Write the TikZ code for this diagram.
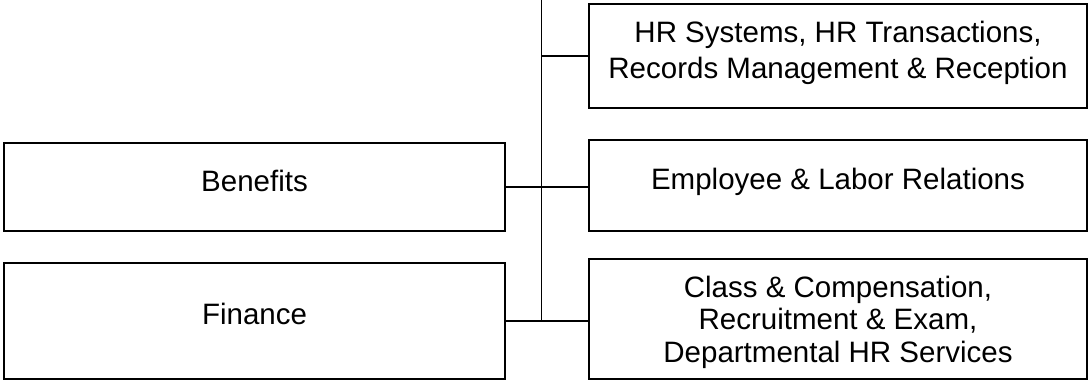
\documentclass[tikz,border=0pt]{standalone}
\usepackage{fontspec}
\setmainfont{Liberation Sans}
\begin{document}
\begin{tikzpicture}[x=1pt,y=1pt,
  box/.style={draw=black,line width=1.5pt,inner sep=0pt,minimum width=#1},
  lbl/.style={inner sep=0pt,align=center,font=\fontsize{29.5}{32.5}\selectfont},
  conn/.style={draw=black,line width=1.2pt}]
\useasboundingbox (0,0) rectangle (1088,382);
% boxes (y = 382 - pixel row)
\node[box=501pt,minimum height=88pt]  (ben) at (254.5,195) {};
\node[box=501pt,minimum height=116pt] (fin) at (254.5,61) {};
\node[box=498pt,minimum height=104pt] (hr)  at (838,326) {};
\node[box=498pt,minimum height=91pt]  (emp) at (838,196.5) {};
\node[box=498pt,minimum height=120pt] (cls) at (838,63) {};
% texts
\node[lbl,anchor=base] (tben) at (254.5,190) {Benefits};
\node[lbl,anchor=base] (tfin) at (254.5,57) {Finance};
\node[lbl,anchor=base] (temp) at (838,192) {Employee \& Labor Relations};
\node[lbl,font=\fontsize{29.5}{36}\selectfont] (thr) at (838,329.5) {HR Systems, HR Transactions,\\Records Management \& Reception};
\node[lbl] (tcls) at (838,60) {Class \& Compensation,\\Recruitment \& Exam,\\Departmental HR Services};
% connectors
\coordinate (top) at (541,382);
\draw[line width=1pt] (top) -- (top |- fin.east);
\draw[conn] (top |- hr.west) -- (hr.west);
\draw[conn] (ben.east) -- (ben.east -| emp.west);
\draw[conn] (fin.east) -- (fin.east -| cls.west);
\end{tikzpicture}
\end{document}
